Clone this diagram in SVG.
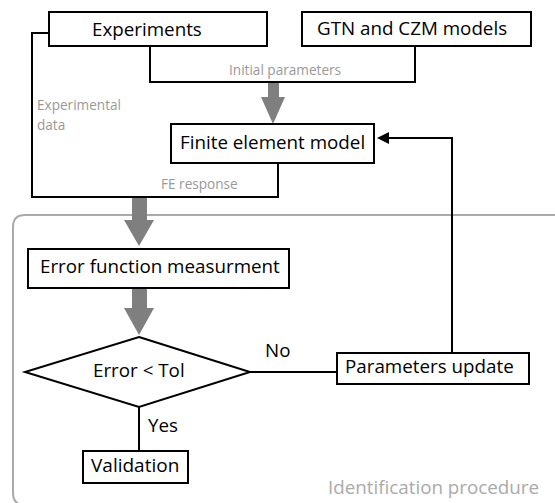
<svg xmlns="http://www.w3.org/2000/svg" width="555" height="503" viewBox="0 0 555 503">
<defs>
<style>
.box{fill:#fff;stroke:#000;stroke-width:2}
.ln{fill:none;stroke:#000;stroke-width:2}
.t{font-family:"Open Sans","Noto Sans",sans-serif;font-size:18.8px;fill:#000}
.lb{font-family:"Open Sans","Noto Sans",sans-serif;font-size:13.6px;fill:#999}
.garrow{fill:#7f7f7f}
</style>
</defs>
<rect width="555" height="503" fill="#fff"/>

<g id="boundary">
<path d="M560,215 L25,215 Q13,215 13,227 L13,493 Q13,505 25,505 L560,505" fill="none" stroke="#aaa" stroke-width="2"/>
<text x="328" y="494" font-family="Open Sans,Noto Sans,sans-serif" font-size="18.8" fill="#aaa">Identification procedure</text>
</g>

<g id="connectors">
<path class="ln" d="M150,46 V82 H415 V46"/>
<path class="ln" d="M49,33 H32 V197 H278 V163"/>
<path class="ln" d="M452,353 V138 H388"/>
<path d="M377,138 L389,132 L389,144 Z" fill="#000"/>
<path class="ln" d="M250,372 H337"/>
<path class="ln" d="M139,407 V451"/>
<path class="garrow" d="M268,83 H279 V97 H285 L273,124 L261,97 H268 Z"/>
<path class="garrow" d="M132,198 H147 V220 H154 L139,246 L124,220 H132 Z"/>
<path class="garrow" d="M132,289 H147 V308 H154 L139,335 L124,308 H132 Z"/>
<text class="lb" x="229" y="75">Initial parameters</text>
<text class="lb" x="37" y="110">Experimental</text>
<text class="lb" x="37" y="130">data</text>
<text class="lb" x="161" y="189">FE response</text>
<text class="t" x="265" y="357">No</text>
<text class="t" x="148" y="432">Yes</text>
</g>

<g id="experiments">
<rect class="box" x="49" y="12" width="218" height="34"/>
<text class="t" x="92" y="36">Experiments</text>
</g>
<g id="gtn">
<rect class="box" x="302" y="12" width="229" height="34"/>
<text class="t" x="317" y="35">GTN and CZM models</text>
</g>
<g id="fem">
<rect class="box" x="171" y="124" width="203" height="39"/>
<text class="t" x="180" y="149">Finite element model</text>
</g>
<g id="error-function">
<rect class="box" x="28" y="249" width="261" height="39"/>
<text class="t" x="40" y="273">Error function measurment</text>
</g>
<g id="decision">
<path class="box" d="M139,337 L250,372 L139,407 L25,372 Z"/>
<text class="t" x="93" y="377">Error &lt; Tol</text>
</g>
<g id="validation">
<rect class="box" x="83" y="451" width="105" height="32"/>
<text class="t" x="91" y="472" style="font-size:19px">Validation</text>
</g>
<g id="parameters-update">
<rect class="box" x="337" y="353" width="192" height="31"/>
<text class="t" x="345" y="373">Parameters update</text>
</g>
</svg>
